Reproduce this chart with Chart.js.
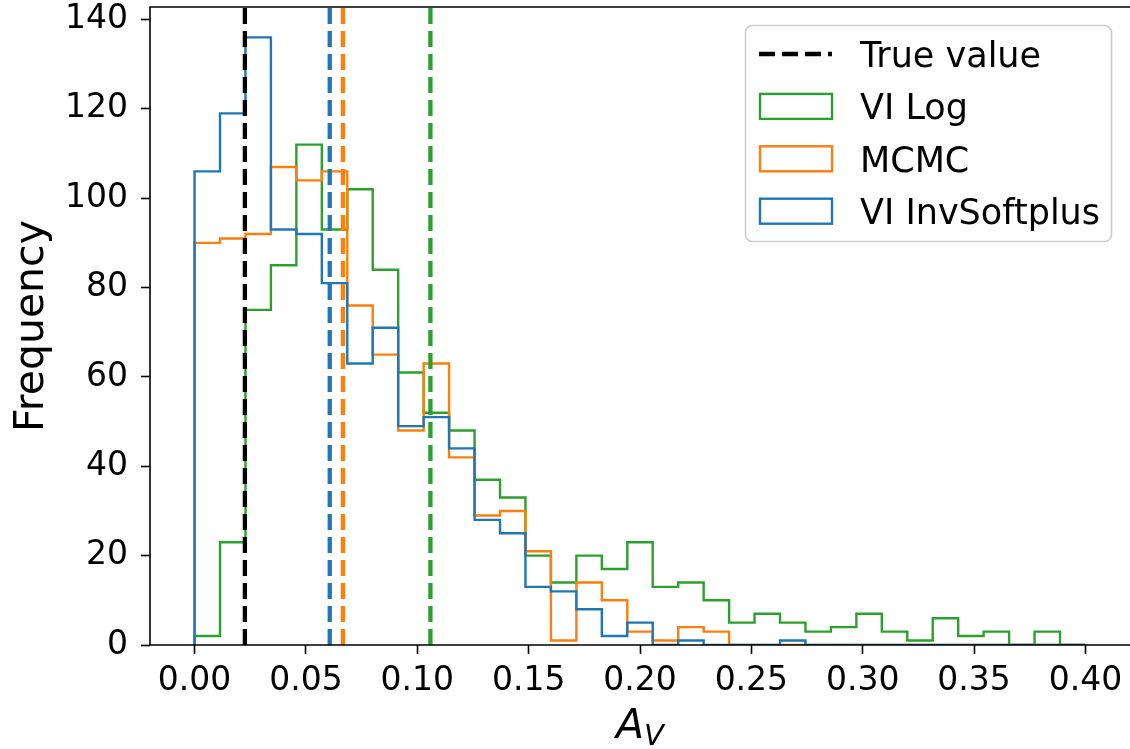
<!DOCTYPE html>
<html>
<head>
<meta charset="utf-8">
<script src="https://cdn.jsdelivr.net/npm/chart.js@4.4.1/dist/chart.umd.min.js"></script>
<style>
  html, body { margin: 0; padding: 0; background: #fff; }
  canvas { display: block; }
</style>
</head>
<body>
<canvas id="histChart" width="1130" height="749"></canvas>
<script>
// 35 equal bins between 0 and 0.4
const binCount = 35;
const binEdges = Array.from({ length: binCount + 1 }, (_, i) => (i * 0.4) / binCount);

// counts per bin ---------------------------------
const viLogCounts = [2, 23, 75, 85, 112, 93, 102, 84, 61, 52, 48, 37, 33, 20, 14, 20, 17, 23,
  13, 14, 10, 5, 7, 5, 3, 4, 7, 3, 1, 6, 2, 3, 0, 3, 0];
const mcmcCounts = [90, 91, 92, 107, 104, 106, 76, 65, 48, 63, 42, 29, 30, 21, 1, 14, 10, 3,
  1, 4, 3, 0, 0, 0, 0, 0, 0, 0, 0, 0, 0, 0, 0, 0, 0];
const viInvSoftplusCounts = [106, 119, 136, 93, 92, 81, 63, 71, 49, 51, 44, 28, 25, 13, 12, 8, 2, 5,
  0, 1, 0, 0, 0, 1, 0, 0, 0, 0, 0, 0, 0, 0, 0, 0, 0];

// vertical markers
const trueValue = 0.0226;
const viInvSoftplusMean = 0.0607;
const mcmcMean = 0.0666;
const viLogMean = 0.1059;

const xTicks = [0, 0.05, 0.1, 0.15, 0.2, 0.25, 0.3, 0.35, 0.4];
const yTicks = [0, 20, 40, 60, 80, 100, 120, 140];
const xMin = -0.02, xMax = 0.42;
const yMax = 142.8;

const FONT = "DejaVu Sans";
const BLUE = "#1f77b4", ORANGE = "#ff7f0e", GREEN = "#2ca02c";

Chart.defaults.font.family = FONT;
Chart.defaults.color = "#000";

// outline of a step histogram
function stepPoints(counts) {
  const pts = [{ x: binEdges[0], y: 0 }];
  counts.forEach((c, i) => pts.push({ x: binEdges[i + 1], y: c }));
  pts.push({ x: binEdges[binEdges.length - 1], y: 0 });
  return pts;
}

function vline(x) {
  return [{ x: x, y: 0 }, { x: x, y: yMax }];
}

const histStyle = (color) => ({
  borderColor: color,
  backgroundColor: color,
  borderWidth: 2.4,
  stepped: "after",
  pointRadius: 0,
  fill: false,
  legendKind: "patch",
});

const dashStyle = (color) => ({
  borderColor: color,
  backgroundColor: color,
  borderWidth: 4.3,
  borderDash: [16, 7],
  pointRadius: 0,
  fill: false,
  legendKind: "line",
});

// Spines (drawn over the histogram outlines, like matplotlib) -------- {}
const spines = {
  id: "spines",
  afterDatasetsDraw(chart) {
    const { ctx, chartArea: a } = chart;
    ctx.save();
    ctx.strokeStyle = "#000";
    ctx.lineWidth = 1.6;
    ctx.beginPath();
    ctx.moveTo(a.left, a.bottom);
    ctx.lineTo(a.left, a.top);
    ctx.lineTo(a.right, a.top);
    ctx.moveTo(a.left, a.bottom);
    ctx.lineTo(a.right, a.bottom);
    ctx.stroke();
    ctx.restore();
  },
};

// Legend box -------------------------------------- {}
const boxLegend = {
  id: "boxLegend",
  afterDraw(chart) {
    const ctx = chart.ctx;
    const x = 745.5, y = 25.5, w = 366, h = 216, r = 7;
    ctx.save();
    ctx.beginPath();
    ctx.moveTo(x + r, y);
    ctx.lineTo(x + w - r, y);
    ctx.arcTo(x + w, y, x + w, y + r, r);
    ctx.lineTo(x + w, y + h - r);
    ctx.arcTo(x + w, y + h, x + w - r, y + h, r);
    ctx.lineTo(x + r, y + h);
    ctx.arcTo(x, y + h, x, y + h - r, r);
    ctx.lineTo(x, y + r);
    ctx.arcTo(x, y, x + r, y, r);
    ctx.closePath();
    ctx.fillStyle = "rgba(255,255,255,0.8)";
    ctx.fill();
    ctx.strokeStyle = "#cccccc";
    ctx.lineWidth = 1.6;
    ctx.stroke();

    const items = chart.data.datasets.filter((d) => d.label);
    items.sort((a, b) => a.legendRank - b.legendRank);
    items.forEach((d, i) => {
      const cy = 54 + i * 52.4;
      if (d.legendKind === "line") {
        ctx.beginPath();
        ctx.setLineDash(d.borderDash);
        ctx.lineWidth = d.borderWidth;
        ctx.strokeStyle = d.borderColor;
        ctx.moveTo(759, cy);
        ctx.lineTo(832, cy);
        ctx.stroke();
        ctx.setLineDash([]);
      } else {
        ctx.lineWidth = d.borderWidth;
        ctx.strokeStyle = d.borderColor;
        ctx.strokeRect(760, cy - 12.5, 72, 25);
      }
      ctx.fillStyle = "#000";
      ctx.font = `35px "${FONT}"`;
      ctx.textBaseline = "alphabetic";
      ctx.textAlign = "left";
      ctx.fillText(d.label, 860, cy + 13);
    });
    ctx.restore();
  },
};

// x axis label A_V ---------------------------------- {}
const xLabel = {
  id: "xLabel",
  afterDraw(chart) {
    const { ctx, chartArea: a } = chart;
    ctx.save();
    ctx.fillStyle = "#000";
    ctx.textBaseline = "alphabetic";
    ctx.textAlign = "left";
    const big = `oblique 41px "${FONT}"`;
    const small = `oblique 29px "${FONT}"`;
    ctx.font = big;
    const wA = ctx.measureText("A").width;
    ctx.font = small;
    const wV = ctx.measureText("V").width;
    const x0 = (a.left + a.right) / 2 - (wA + wV) / 2;
    ctx.font = big;
    ctx.fillText("A", x0, 738);
    ctx.font = small;
    ctx.fillText("V", x0 + wA, 745);
    ctx.restore();
  },
};

const ctx = document.getElementById("histChart").getContext("2d");
const myChart = new Chart(ctx, {
  type: "line",
  data: {
    datasets: [
      { label: "True value", data: vline(trueValue), legendRank: 0, ...dashStyle("#000") },
      { label: "", data: vline(viInvSoftplusMean), ...dashStyle(BLUE) },
      { label: "", data: vline(mcmcMean), ...dashStyle(ORANGE) },
      { label: "", data: vline(viLogMean), ...dashStyle(GREEN) },
      { label: "VI InvSoftplus", data: stepPoints(viInvSoftplusCounts), legendRank: 3, ...histStyle(BLUE) },
      { label: "MCMC", data: stepPoints(mcmcCounts), legendRank: 2, ...histStyle(ORANGE) },
      { label: "VI Log", data: stepPoints(viLogCounts), legendRank: 1, ...histStyle(GREEN) },
    ],
  },
  options: {
    responsive: false,
    animation: false,
    devicePixelRatio: 1,
    layout: { padding: { top: 7, right: 0, left: 0, bottom: 0 } },
    scales: {
      x: {
        type: "linear",
        min: xMin,
        max: xMax,
        afterBuildTicks: (scale) => {
          scale.ticks = xTicks.map((v) => ({ value: v }));
        },
        afterFit: (scale) => {
          scale.height = 104;
          scale.paddingLeft = 0;
          scale.paddingRight = 0;
        },
        ticks: {
          font: { size: 33 },
          padding: 8,
          maxRotation: 0,
          autoSkip: false,
          callback: (v) => Number(v).toFixed(2),
        },
        grid: {
          drawOnChartArea: false,
          drawTicks: true,
          tickLength: 9,
          tickWidth: 1.6,
          tickColor: "#000",
        },
        border: { display: false },
      },
      y: {
        min: 0,
        max: yMax,
        afterBuildTicks: (scale) => {
          scale.ticks = yTicks.map((v) => ({ value: v }));
        },
        afterFit: (scale) => {
          scale.width = 150;
          scale.paddingTop = 0;
          scale.paddingBottom = 0;
        },
        ticks: {
          font: { size: 33 },
          padding: 13,
          autoSkip: false,
        },
        grid: {
          drawOnChartArea: false,
          drawTicks: true,
          tickLength: 9,
          tickWidth: 1.6,
          tickColor: "#000",
        },
        border: { display: false },
        title: {
          display: true,
          text: "Frequency",
          font: { size: 41 },
          padding: { top: 8, bottom: 0 },
        },
      },
    },
    plugins: {
      legend: { display: false },
      tooltip: { enabled: false },
    },
  },
  plugins: [spines, boxLegend, xLabel],
});
</script>
</body>
</html>
